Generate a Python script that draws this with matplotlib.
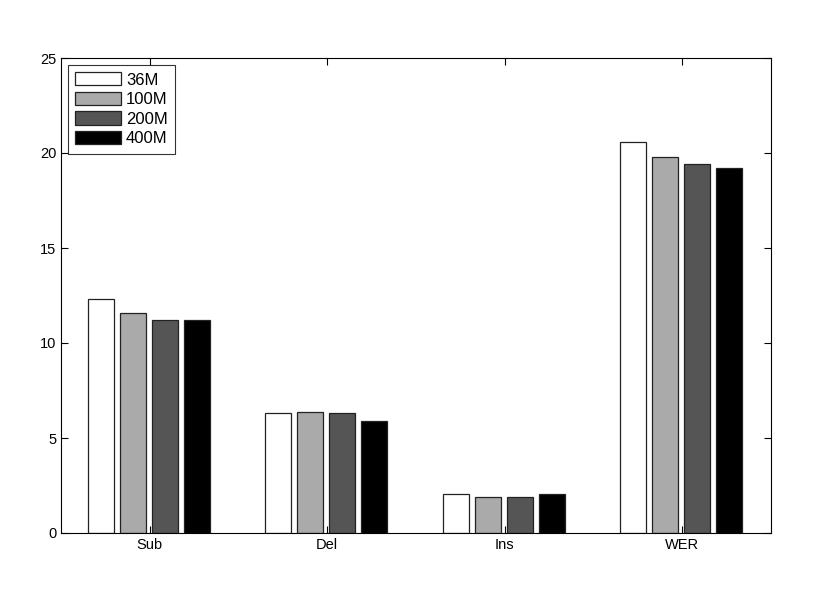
import matplotlib
matplotlib.use("Agg")
import matplotlib.pyplot as plt
import numpy as np

plt.rcParams['font.family'] = ['Liberation Sans', 'DejaVu Sans']

categories = ['Sub', 'Del', 'Ins', 'WER']
series_names = ['36M', '100M', '200M', '400M']
vals_36m = [12.3, 6.3, 2.05, 20.6]
vals_100m = [11.6, 6.35, 1.87, 19.8]
vals_200m = [11.2, 6.3, 1.87, 19.4]
vals_400m = [11.2, 5.9, 2.05, 19.2]
colors = ['#ffffff', '#aaaaaa', '#555555', '#000000']

fig = plt.figure(figsize=(8.3, 5.93), dpi=100)
ax = fig.add_axes([61/830, 60/593, 710/830, 475/593])

x = np.arange(1, len(categories) + 1)
step = 0.18
width = 0.146
for i, (vals, name) in enumerate(zip([vals_36m, vals_100m, vals_200m, vals_400m], series_names)):
    ax.bar(x + (i - 1.5) * step - 0.005, vals, width, color=colors[i], edgecolor='#222222',
           linewidth=0.9, label=name)

ax.set_xlim(0.5, 4.5)
ax.set_ylim(0, 25)
ax.set_xticks(x)
ax.set_xticklabels(categories)
ax.set_yticks(np.arange(0, 26, 5))
ax.tick_params(direction='in', top=True, right=True, labelsize=10.5, length=5, width=0.8)
for s in ax.spines.values():
    s.set_linewidth(0.8)

leg = ax.legend(loc='upper left', fontsize=12, frameon=True, fancybox=False,
                edgecolor='black', borderpad=0.45, labelspacing=0.25,
                handlelength=2.75, handleheight=0.85, handletextpad=0.3,
                borderaxespad=0.4)
leg.get_frame().set_linewidth(0.8)

fig.savefig('out.png', dpi=100, facecolor='white')
